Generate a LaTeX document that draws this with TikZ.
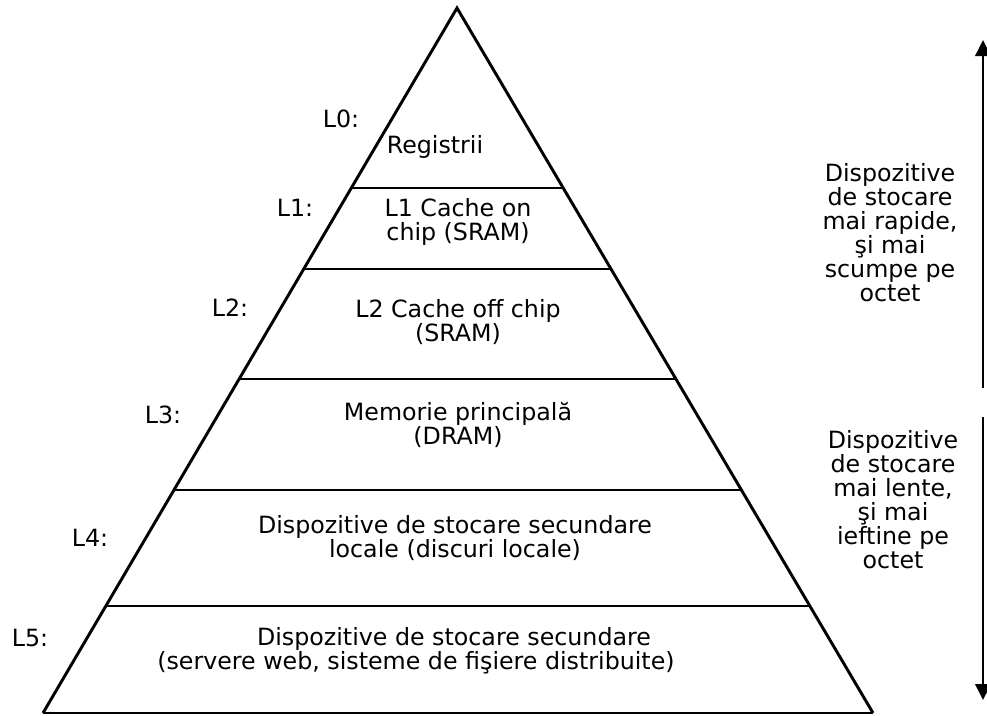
\documentclass[tikz,border=0pt]{standalone}
\usepackage{fontspec}
\setmainfont{DejaVu Sans}
\usetikzlibrary{calc,arrows.meta}
\begin{document}
\begin{tikzpicture}[x=0.75pt,y=-0.75pt,
  every node/.style={inner sep=0pt,font=\fontsize{17.8}{18}\selectfont},
  side/.style={line width=2.2pt},
  levelline/.style={line width=1.7pt},
  txt/.style={align=center},
  lbl/.style={anchor=base},
  spanarrow/.style={line width=2pt,-{Triangle[width=11.5pt,length=12pt]}}]
\useasboundingbox (0,0) rectangle (987,715);

% pyramid outline
\coordinate (apex) at (457,8);
\coordinate (bl) at (43,713);
\coordinate (br) at (873,713);
\draw[side] (bl) -- (apex) -- (br);
\draw[line width=1.2pt] (bl) -- (br);

% level separators
\foreach \t in {0.2553,0.3702,0.5262,0.6837,0.8482}
  \draw[levelline] ($(apex)!\t!(bl)$) -- ($(apex)!\t!(br)$);

% level names
\node[lbl] (l0) at (341,127) {L0:};
\node[lbl] (l1) at (295,216) {L1:};
\node[lbl] (l2) at (230,316) {L2:};
\node[lbl] (l3) at (163,423) {L3:};
\node[lbl] (l4) at (90,546) {L4:};
\node[lbl] (l5) at (30,646) {L5:};

% level contents
\node[lbl] (reg) at (435,153) {Registrii};
\node[txt] (c1) at (458,222) {L1 Cache on\\chip (SRAM)};
\node[txt] (c2) at (458,322.5) {L2 Cache off chip\\(SRAM)};
\node[txt] (mem) at (458,424.5) {Memorie principală\\(DRAM)};
\node[txt] (loc) at (455,538.5) {Dispozitive de stocare secundare\\locale (discuri locale)};
\node[lbl] (dist1) at (454,645) {Dispozitive de stocare secundare};
\node[lbl] (dist2) at (416,669) {(servere web, sisteme de fişiere distribuite)};

% speed / cost notes
\node[txt] (fast) at (890,233) {Dispozitive\\de stocare\\mai rapide,\\şi mai\\scumpe pe\\octet};
\node[txt] (slow) at (893,500) {Dispozitive\\de stocare\\mai lente,\\şi mai\\ieftine pe\\octet};

\coordinate (upS) at (983,388);
\coordinate (upE) at (983,40);
\coordinate (dnS) at (983,417);
\coordinate (dnE) at (983,700);
\draw[spanarrow] (upS) -- (upE);
\draw[spanarrow] (dnS) -- (dnE);
\end{tikzpicture}
\end{document}
